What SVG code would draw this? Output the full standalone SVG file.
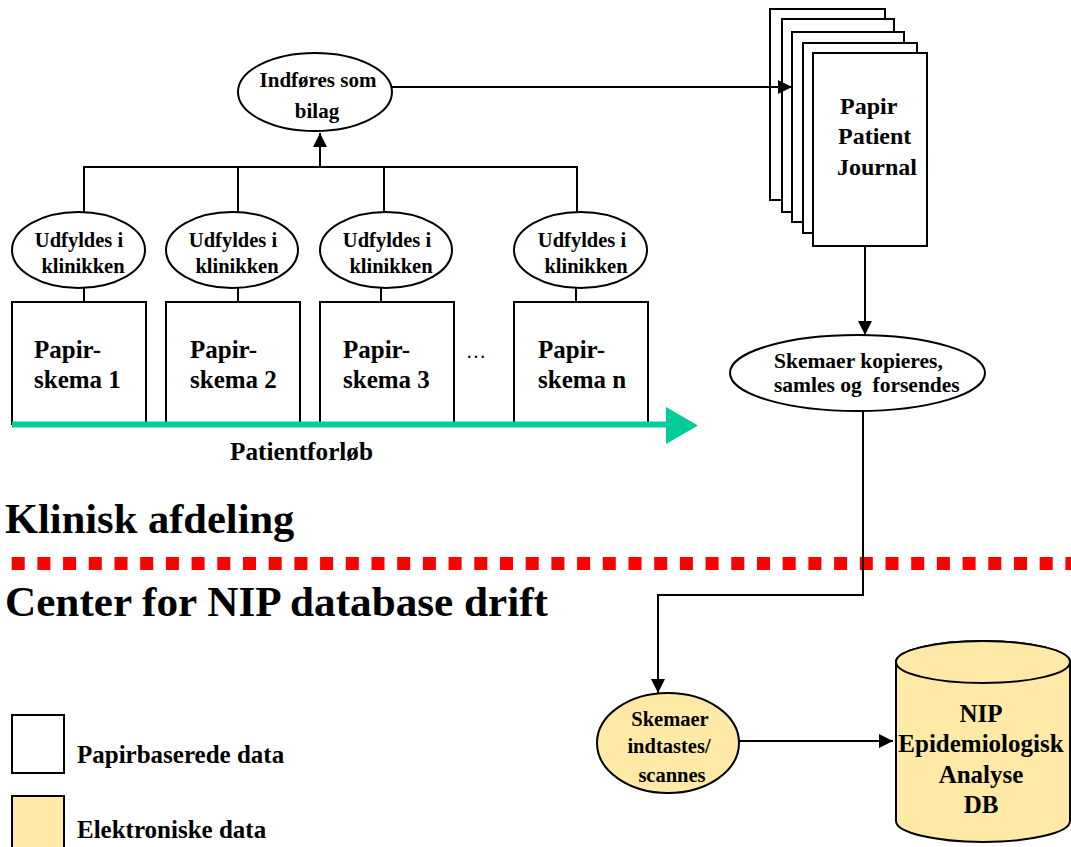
<svg xmlns="http://www.w3.org/2000/svg" width="1071" height="847" viewBox="0 0 1071 847">
  <style>
    text { font-family: "Liberation Serif", "Times New Roman", serif; font-weight: bold; fill: #000; }
    .shape { fill: #fff; stroke: #000; stroke-width: 2; }
    .elec { fill: #FFE9A6; stroke: #000; stroke-width: 2; }
    .wire { fill: none; stroke: #000; stroke-width: 2; }
    .c { text-anchor: middle; }
    .pre { white-space: pre; }
  </style>
  <defs>
    <marker id="arrow" markerUnits="userSpaceOnUse" markerWidth="14" markerHeight="14" viewBox="0 0 14 14" refX="14" refY="7" orient="auto">
      <path d="M0,0 L14,7 L0,14 Z" fill="#000"/>
    </marker>
  </defs>

  <!-- section titles -->
  <text x="5" y="533" font-size="42.5">Klinisk afdeling</text>
  <text x="5" y="616" font-size="43.2">Center for NIP database drift</text>

  <!-- boundary between the two organisations -->
  <line x1="11.7" y1="563.5" x2="1071" y2="563.5" stroke="#FF0000" stroke-width="13" stroke-dasharray="13 12.7"/>

  <!-- stacked patient journal -->
  <g id="journal">
    <rect class="shape" x="770" y="9" width="115" height="191"/>
    <rect class="shape" x="782" y="19" width="112" height="193"/>
    <rect class="shape" x="792" y="32" width="112" height="190"/>
    <rect class="shape" x="803" y="43" width="114" height="190"/>
    <rect class="shape" x="813" y="53" width="114" height="193"/>
    <text x="840" y="114" font-size="24">Papir</text>
    <text x="838" y="144" font-size="24">Patient</text>
    <text x="837" y="175" font-size="24">Journal</text>
  </g>

  <!-- connectors -->
  <g id="connectors">
    <!-- forms gathered into the appendix node -->
    <polyline class="wire" points="84,212 84,167 577,167 577,212"/>
    <line class="wire" x1="238" y1="167" x2="238" y2="212"/>
    <line class="wire" x1="384" y1="167" x2="384" y2="212"/>
    <line class="wire" x1="320" y1="167" x2="320" y2="133" marker-end="url(#arrow)"/>
    <line class="wire" x1="392" y1="87" x2="792" y2="87" marker-end="url(#arrow)"/>
    <!-- ellipse to form -->
    <line class="wire" x1="84" y1="288" x2="84" y2="302"/>
    <line class="wire" x1="238" y1="288" x2="238" y2="302"/>
    <line class="wire" x1="381" y1="288" x2="381" y2="302"/>
    <line class="wire" x1="576" y1="288" x2="576" y2="302"/>
    <!-- journal onwards -->
    <line class="wire" x1="865" y1="246" x2="865" y2="335" marker-end="url(#arrow)"/>
    <polyline class="wire" points="863,411 863,595 658,595 658,693" marker-end="url(#arrow)"/>
    <line class="wire" x1="739" y1="741" x2="893" y2="741" marker-end="url(#arrow)"/>
  </g>

  <g id="indfoeres">
    <ellipse class="shape" cx="315" cy="92" rx="77" ry="39"/>
    <text class="c" x="318" y="87" font-size="21">Indføres som</text>
    <text class="c" x="317" y="118" font-size="21">bilag</text>
  </g>

  <g id="udfyldes-1">
    <ellipse class="shape" cx="78.5" cy="250" rx="66.5" ry="38"/>
    <text class="c" x="79" y="247" font-size="20.5">Udfyldes i</text>
    <text class="c" x="83" y="273" font-size="20.5">klinikken</text>
  </g>
  <g id="udfyldes-2">
    <ellipse class="shape" cx="232" cy="250" rx="66" ry="38"/>
    <text class="c" x="233" y="247" font-size="20.5">Udfyldes i</text>
    <text class="c" x="237" y="273" font-size="20.5">klinikken</text>
  </g>
  <g id="udfyldes-3">
    <ellipse class="shape" cx="386" cy="250" rx="66" ry="38"/>
    <text class="c" x="387" y="247" font-size="20.5">Udfyldes i</text>
    <text class="c" x="391" y="273" font-size="20.5">klinikken</text>
  </g>
  <g id="udfyldes-n">
    <ellipse class="shape" cx="580.5" cy="250" rx="66.5" ry="38"/>
    <text class="c" x="582" y="247" font-size="20.5">Udfyldes i</text>
    <text class="c" x="586" y="273" font-size="20.5">klinikken</text>
  </g>

  <!-- paper forms along the patient course -->
  <g id="skema-1">
    <rect class="shape" x="12" y="302" width="134" height="122"/>
    <text x="34" y="358" font-size="25">Papir-</text>
    <text x="34" y="388" font-size="25">skema 1</text>
  </g>
  <g id="skema-2">
    <rect class="shape" x="166" y="302" width="134" height="122"/>
    <text x="190" y="358" font-size="25">Papir-</text>
    <text x="190" y="388" font-size="25">skema 2</text>
  </g>
  <g id="skema-3">
    <rect class="shape" x="320" y="302" width="134" height="122"/>
    <text x="343" y="358" font-size="25">Papir-</text>
    <text x="343" y="388" font-size="25">skema 3</text>
  </g>
  <text x="466" y="358" font-size="20" style="font-weight:normal">…</text>
  <g id="skema-n">
    <rect class="shape" x="514" y="302" width="134" height="122"/>
    <text x="538" y="358" font-size="25">Papir-</text>
    <text x="538" y="388" font-size="25">skema n</text>
  </g>

  <!-- patient course arrow -->
  <g id="patientforloeb">
    <line x1="12" y1="424.5" x2="668" y2="424.5" stroke="#00CC99" stroke-width="6"/>
    <polygon points="666,407 698,425.5 666,444" fill="#00CC99"/>
    <text x="230" y="460" font-size="25" textLength="143" lengthAdjust="spacingAndGlyphs">Patientforløb</text>
  </g>

  <g id="kopieres">
    <ellipse class="shape" cx="857.5" cy="373" rx="127.5" ry="38"/>
    <text x="774" y="368" font-size="21.5">Skemaer kopieres,</text>
    <text class="pre" x="774" y="392" font-size="21.5">samles og  forsendes</text>
  </g>

  <g id="indtastes">
    <ellipse class="elec" cx="668" cy="743" rx="71" ry="50"/>
    <text class="c" x="670" y="726" font-size="20.5">Skemaer</text>
    <text class="c" x="669" y="753" font-size="20.5">indtastes/</text>
    <text class="c" x="672" y="782" font-size="20.5">scannes</text>
  </g>

  <!-- analysis database -->
  <g id="database">
    <path class="elec" d="M896,662 L896,821 A87,21 0 0 0 1070,821 L1070,662 A87,21 0 0 0 896,662 Z"/>
    <ellipse class="elec" cx="983" cy="662" rx="87" ry="21"/>
    <text class="c" x="981" y="722" font-size="25">NIP</text>
    <text class="c" x="981" y="752" font-size="25">Epidemiologisk</text>
    <text class="c" x="981" y="783" font-size="25">Analyse</text>
    <text class="c" x="981" y="813" font-size="25">DB</text>
  </g>

  <!-- legend -->
  <g id="legend">
    <rect class="shape" x="12" y="715" width="52" height="58"/>
    <text x="77" y="763" font-size="25">Papirbaserede data</text>
    <rect class="elec" x="12" y="796" width="52" height="60"/>
    <text x="77" y="838" font-size="25">Elektroniske data</text>
  </g>
</svg>
